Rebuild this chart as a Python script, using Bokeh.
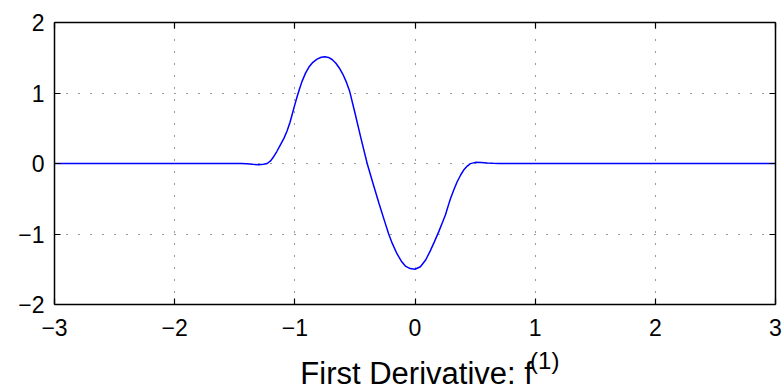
from bokeh.plotting import figure
from bokeh.models import LinearAxis, FixedTicker, Range1d, Label
from bokeh.layouts import column
from bokeh.embed import file_html
from bokeh.resources import INLINE

# curve values
x_vals = [-3.0, -1.45, -1.40, -1.35, -1.30, -1.26, -1.23, -1.20, -1.175, -1.15, -1.12, -1.09,
          -1.064, -1.04, -1.02, -1.0, -0.98, -0.96, -0.94, -0.91, -0.884, -0.85, -0.815, -0.78,
          -0.751, -0.72, -0.69, -0.66, -0.63, -0.60, -0.57, -0.543, -0.50, -0.45, -0.398, -0.35,
          -0.30, -0.25, -0.219, -0.19, -0.15, -0.11, -0.08, -0.04, 0.0, 0.045, 0.09, 0.128, 0.16,
          0.197, 0.225, 0.253, 0.28, 0.295, 0.325, 0.35, 0.38, 0.405, 0.435, 0.461, 0.503, 0.55,
          0.60, 0.65, 0.70, 3.0]
y_vals = [0.0, 0.0, -0.005, -0.012, -0.016, -0.012, 0.0, 0.04, 0.10, 0.17, 0.265, 0.36,
          0.465, 0.585, 0.71, 0.835, 0.955, 1.065, 1.165, 1.285, 1.365, 1.435, 1.48, 1.507,
          1.515, 1.505, 1.475, 1.425, 1.355, 1.265, 1.15, 1.02, 0.72, 0.36, 0.0, -0.28,
          -0.565, -0.835, -1.0, -1.13, -1.28, -1.395, -1.455, -1.49, -1.50, -1.465, -1.365, -1.235, -1.115,
          -0.97, -0.85, -0.73, -0.58, -0.50, -0.365, -0.262, -0.163, -0.093, -0.037, -0.002, 0.016, 0.014,
          0.008, 0.003, 0.0, 0.0]

x_ticks = [-3, -2, -1, 0, 1, 2, 3]
y_ticks = [-2, -1, 0, 1, 2]
x_tick_labels = ["\u22123", "\u22122", "\u22121", "0", "1", "2", "3"]
y_tick_labels = ["\u22122", "\u22121", "0", "1", "2"]
title_main = "First Derivative: f"
title_sup = "(1)"

FONT = "Liberation Sans"
W = 783
H_MAIN = 345
H_TITLE = 46

p = figure(width=W, height=H_MAIN, output_backend="svg", toolbar_location=None,
           x_range=Range1d(-3, 3), y_range=Range1d(-2, 2),
           x_axis_location=None, y_axis_location=None,
           min_border_left=54, min_border_right=8, min_border_top=22, min_border_bottom=41)
p.background_fill_color = "white"
p.border_fill_color = "white"
p.outline_line_color = None

def style_axis(ax, ticks, labels, show_labels, line_w=1.5):
    ax.ticker = FixedTicker(ticks=ticks)
    ax.minor_tick_line_color = None
    ax.major_tick_in = 6
    ax.major_tick_out = 0
    ax.axis_line_color = "black"
    ax.axis_line_width = line_w
    ax.major_tick_line_color = "black"
    ax.major_tick_line_width = 1.2
    if show_labels:
        ax.major_label_overrides = {t: l for t, l in zip(ticks, labels)}
        ax.major_label_text_font = FONT
        ax.major_label_text_font_size = "23px"
        ax.major_label_text_color = "black"
    else:
        ax.major_label_text_color = None
        ax.major_label_text_font_size = "1px"
        ax.major_label_standoff = 0

xb = LinearAxis()
style_axis(xb, x_ticks, x_tick_labels, True)
xb.major_label_standoff = 14
p.add_layout(xb, "below")

yl = LinearAxis()
style_axis(yl, y_ticks, y_tick_labels, True)
yl.major_label_standoff = 10
p.add_layout(yl, "left")

xt = LinearAxis()
style_axis(xt, x_ticks, x_tick_labels, False)
p.add_layout(xt, "above")

yr = LinearAxis()
style_axis(yr, y_ticks, y_tick_labels, False)
p.add_layout(yr, "right")

p.xgrid.ticker = FixedTicker(ticks=x_ticks)
p.ygrid.ticker = FixedTicker(ticks=y_ticks)
for g in (p.xgrid, p.ygrid):
    g.grid_line_color = "#333333"
    g.grid_line_dash = "1 11"
    g.grid_line_width = 1

p.line(x_vals, y_vals, line_color="#0000ff", line_width=1.5)

# title strip (pixel coordinates)
t = figure(width=W, height=H_TITLE, output_backend="svg", toolbar_location=None,
           x_range=Range1d(0, W), y_range=Range1d(0, H_TITLE),
           x_axis_location=None, y_axis_location=None,
           min_border_left=0, min_border_right=0, min_border_top=0, min_border_bottom=0)
t.grid.visible = False
t.outline_line_color = None
t.background_fill_color = "white"
t.border_fill_color = "white"
t.add_layout(Label(x=519.5, y=18.5, text=title_main, text_align="right",
                   text_baseline="alphabetic", text_font=FONT, text_font_size="31px",
                   text_color="black"))
t.add_layout(Label(x=516.5, y=31.5, text=title_sup, text_align="left",
                   text_baseline="alphabetic", text_font=FONT, text_font_size="24px",
                   text_color="black"))

layout = column(p, t, spacing=0)
open("out.html", "w").write(file_html(layout, INLINE))
